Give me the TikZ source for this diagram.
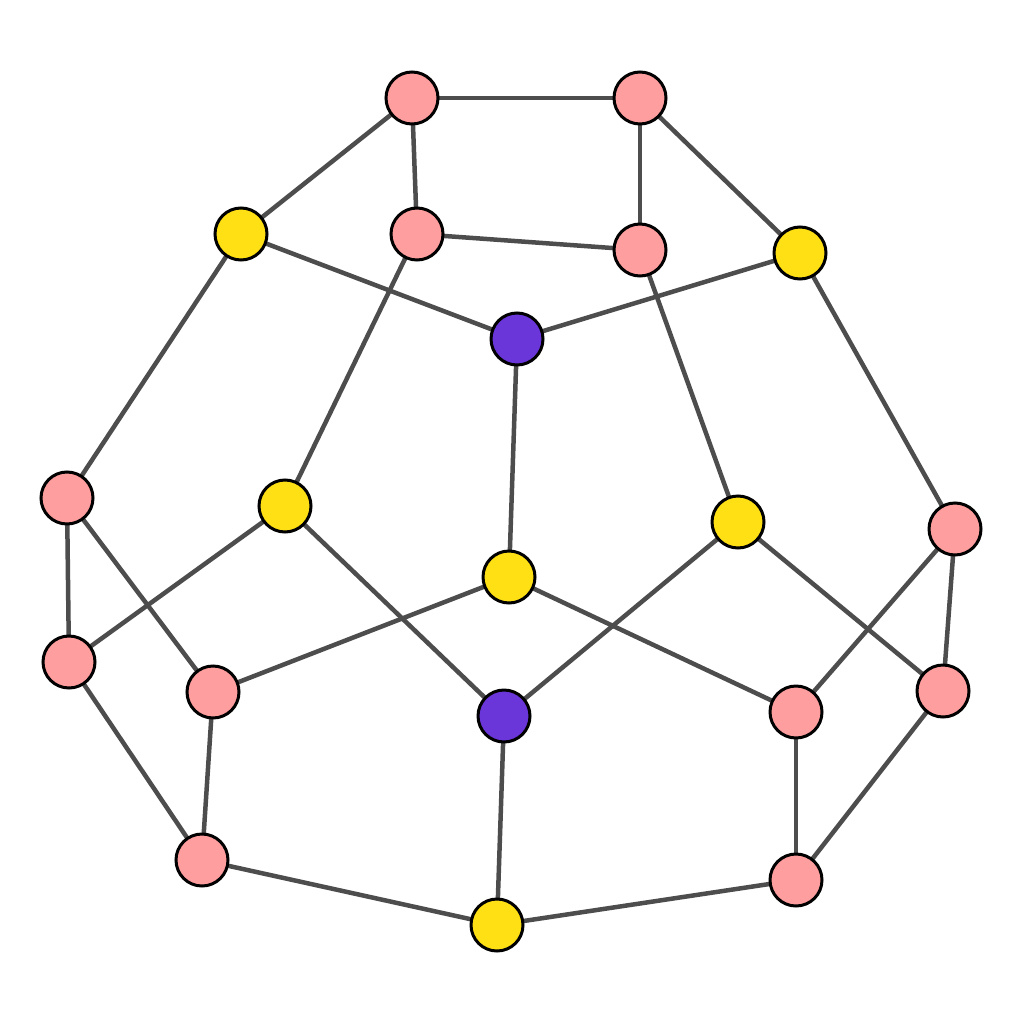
\documentclass[tikz,border=0pt]{standalone}
\definecolor{pk}{HTML}{FF9E9E}
\definecolor{yl}{HTML}{FFE015}
\definecolor{pu}{HTML}{6A35D9}
\definecolor{ed}{HTML}{4D4D4D}
\begin{document}
\begin{tikzpicture}[x=1pt,y=-1pt,
  vx/.style={circle,draw=black,line width=3pt,minimum size=52pt,inner sep=0pt},
  pv/.style={vx,fill=pk},yv/.style={vx,fill=yl},uv/.style={vx,fill=pu},
  ee/.style={draw=ed,line width=4.5pt}]
\useasboundingbox (0,0) rectangle (1024,1024);
\path
 (412,98) coordinate (A) (640,98) coordinate (B) (241,234) coordinate (C)
 (417,234) coordinate (D) (640,250) coordinate (E) (800,253) coordinate (F)
 (517,339) coordinate (G) (67,498) coordinate (H) (285,506) coordinate (I)
 (738,522) coordinate (J) (955,529) coordinate (K) (509,577) coordinate (L)
 (69,662) coordinate (M) (213,692) coordinate (N) (504,716) coordinate (O)
 (796,712) coordinate (P) (943,691) coordinate (Q) (202,860) coordinate (R)
 (497,925) coordinate (S) (796,880) coordinate (T);
\foreach \a/\b in {A/B,A/C,A/D,B/E,B/F,D/E,C/G,F/G,C/H,D/I,E/J,F/K,G/L,H/M,H/N,I/M,I/O,L/N,L/P,J/O,J/Q,K/P,K/Q,M/R,N/R,O/S,R/S,S/T,P/T,Q/T}
  \draw[ee] (\a) -- (\b);
\foreach \n in {A,B,D,E,H,K,M,N,P,Q,R,T} \node[pv] (n\n) at (\n) {};
\foreach \n in {C,F,I,J,L,S} \node[yv] (n\n) at (\n) {};
\foreach \n in {G,O} \node[uv] (n\n) at (\n) {};
\end{tikzpicture}
\end{document}
